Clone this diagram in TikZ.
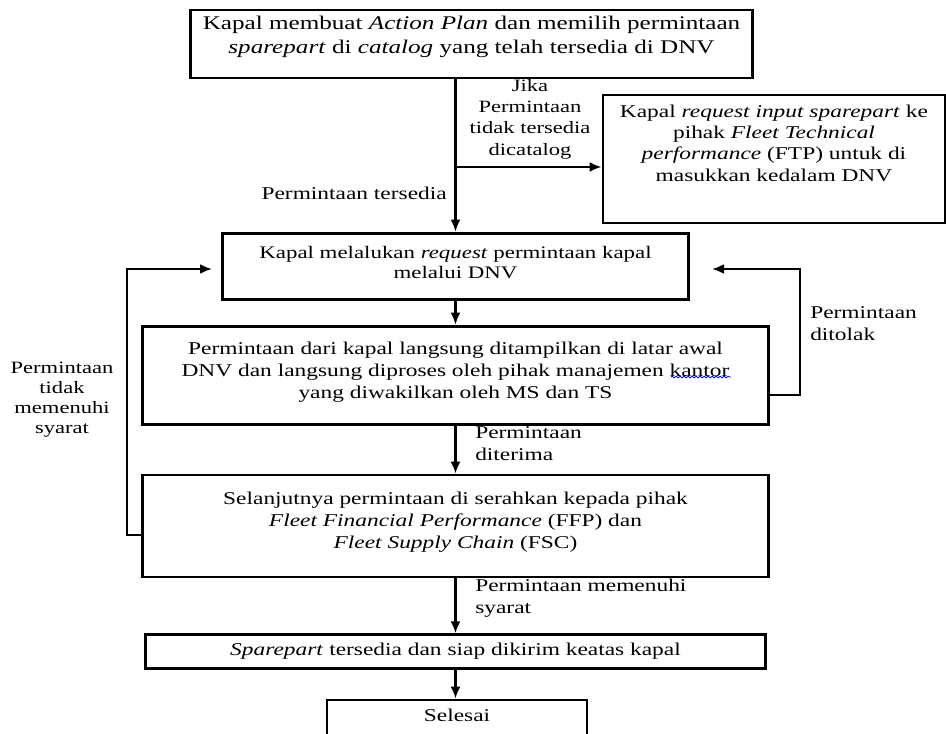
\documentclass[tikz,border=0pt]{standalone}
\usepackage{fontspec}
\setmainfont{Liberation Serif}[FakeStretch=1.3]
\usetikzlibrary{arrows.meta,decorations.pathmorphing}
\newcommand{\padb}[1]{\rule[-#1]{0pt}{#1}}

\begin{document}
\begin{tikzpicture}[x=0.75pt,y=-0.75pt,
 box/.style={draw,line width=2.2pt,inner sep=0pt,align=center,font=\fontsize{13.5}{16.5}\selectfont},
 lbl/.style={align=center,inner sep=0pt,font=\fontsize{13.5}{16.5}\selectfont},
 arr/.style={line width=1.7pt,-{Latex[length=9pt,width=7.5pt]}}]
 \useasboundingbox (0,0) rectangle (946,734);
 % boxes
 \node[box,minimum width=422pt,minimum height=51pt,font=\fontsize{14.5}{18}\selectfont] (act) at (471.5,44)
  {Kapal membuat \emph{Action Plan} dan memilih permintaan\\\emph{sparepart} di \emph{catalog} yang telah tersedia di DNV\padb{13.5pt}};
 \node[box,minimum width=256.5pt,minimum height=96pt,font=\fontsize{13.5}{16}\selectfont] (ftp) at (774,159)
  {Kapal \emph{request input sparepart} ke\\pihak \emph{Fleet Technical}\\\emph{performance} (FTP) untuk di\\masukkan kedalam DNV\padb{24pt}};
 \node[box,minimum width=350pt,minimum height=50pt,font=\fontsize{13.2}{15.5}\selectfont] (req) at (455.5,266.5)
  {Kapal melalukan \emph{request} permintaan kapal\\melalui DNV\padb{6pt}};
 \node[box,minimum width=469pt,minimum height=74pt] (proc) at (455.5,375.5)
  {Permintaan dari kapal langsung ditampilkan di latar awal\\DNV dan langsung diproses oleh pihak manajemen kantor\\yang diwakilkan oleh MS dan TS\padb{7.5pt}};
 \node[box,minimum width=469pt,minimum height=76.5pt] (fwd) at (455.5,526)
  {Selanjutnya permintaan di serahkan kepada pihak\\\emph{Fleet Financial Performance} (FFP) dan\\\emph{Fleet Supply Chain} (FSC)\padb{9pt}};
 \node[box,minimum width=465pt,minimum height=25pt] (rdy) at (455.5,651.5)
  {\emph{Sparepart} tersedia dan siap dikirim keatas kapal};
 \node[box,minimum width=195pt,minimum height=37.5pt] (done) at (457,725)
  {Selesai\padb{15pt}};
 % spelling mark under kantor
 \draw[blue,line width=0.6pt,decorate,decoration={snake,amplitude=0.6pt,segment length=3pt}] (671,377) -- (731,377);
 % labels
 \node[lbl,anchor=east] (avail) at (447,193) {Permintaan tersedia};
 \node[lbl,font=\fontsize{13}{16}\selectfont] (miss) at (530,119) {Jika\\Permintaan\\tidak tersedia\\dicatalog};
 \node[lbl,align=left,anchor=west] (rej) at (810,324) {Permintaan\\ditolak};
 \node[lbl,font=\fontsize{13}{15}\selectfont] (unmet) at (62,400) {Permintaan\\tidak\\memenuhi\\syarat};
 \node[lbl,align=left,anchor=west] (acc) at (475,444) {Permintaan\\diterima};
 \node[lbl,align=left,anchor=west] (met) at (475,598) {Permintaan memenuhi\\syarat};
 % connectors
 \coordinate (br) at (455,167);
 \coordinate (lin) at (212,269);
 \coordinate (rin) at (712,269);
 \coordinate (lo) at (127,535);
 \coordinate (ro) at (800,395);
 \draw[arr] (req.north |- act.south) -- (req.north);
 \draw[arr] (br) -- (br -| ftp.west);
 \draw[arr] (req.south) -- (proc.north);
 \draw[arr] (proc.south) -- (fwd.north);
 \draw[arr] (fwd.south) -- (rdy.north);
 \draw[arr] (rdy.south) -- (rdy.south |- done.north);
 \draw[arr] (lo -| fwd.west) -- (lo) |- (lin);
 \draw[arr] (ro -| proc.east) -- (ro) |- (rin);
\end{tikzpicture}
\end{document}
